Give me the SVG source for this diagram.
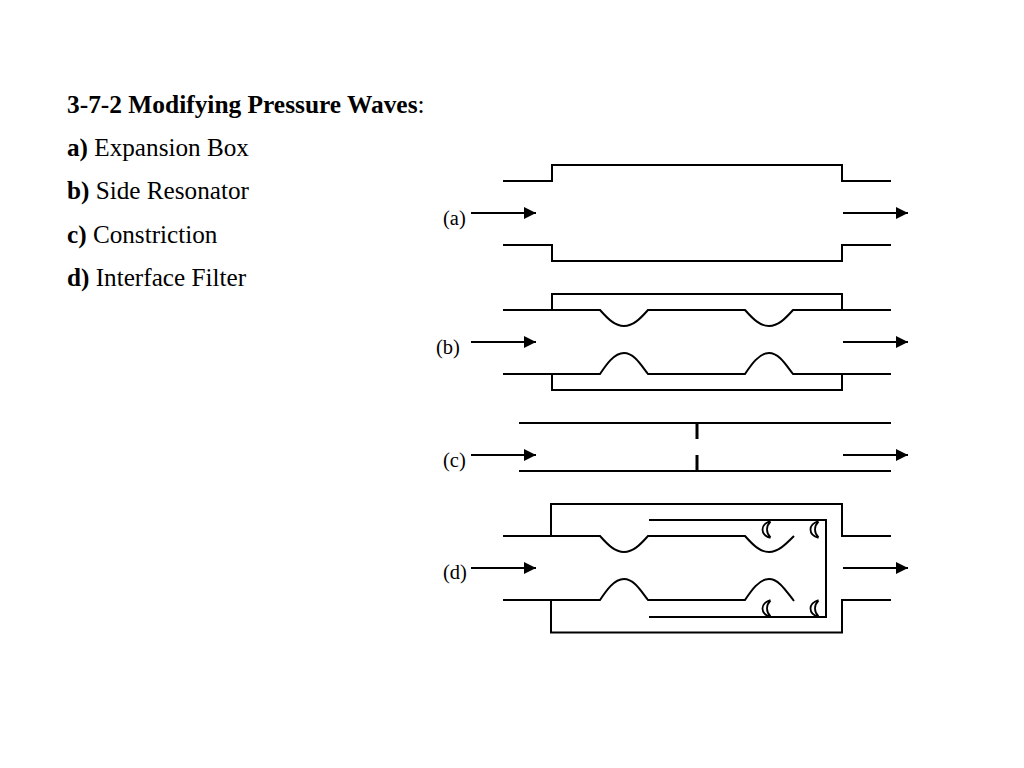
<svg xmlns="http://www.w3.org/2000/svg" width="1024" height="768" viewBox="0 0 1024 768">
<style>
text{font-family:"Liberation Serif","Times New Roman",serif;fill:#000}
.h{font-size:25.2px}
.b{font-weight:bold}
.t1{font-size:25.4px}
.l{font-size:20.5px}
.p{fill:none;stroke:#000;stroke-width:2}
.t{fill:none;stroke:#000;stroke-width:3}
.c{fill:none;stroke:#000;stroke-width:1.8}
.a{fill:none;stroke:#000;stroke-width:2;marker-end:url(#ah)}
</style>
<defs>
<marker id="ah" markerUnits="userSpaceOnUse" markerWidth="12" markerHeight="12" refX="12" refY="6" orient="auto"><path d="M0 0L12 6L0 12Z" fill="#000"/></marker>
<g id="cup"><path d="M8 0C2 2 0 5.500 0 8.500C0 12 3 15.500 8 17M8 0.500C6 2.500 4.500 6 4.500 8.500C4.500 11 6 14.500 8 16.500"/></g>
</defs>
<rect width="1024" height="768" fill="#fff"/>
<g id="heading">
<text class="h t1" x="67" y="112.500"><tspan class="b">3-7-2 Modifying Pressure Waves</tspan>:</text>
<text class="h" x="67" y="156"><tspan class="b">a)</tspan> Expansion Box</text>
<text class="h" x="67" y="199"><tspan class="b">b)</tspan> Side Resonator</text>
<text class="h" x="67" y="242.500"><tspan class="b">c)</tspan> Constriction</text>
<text class="h" x="67" y="285.500"><tspan class="b">d)</tspan> Interface Filter</text>
</g>
<g id="connectors">
<path class="a" d="M471 213H536"/><path class="a" d="M843 213H908"/>
<path class="a" d="M471 342H536"/><path class="a" d="M843 342H908"/>
<path class="a" d="M471 455H536"/><path class="a" d="M843 455H908"/>
<path class="a" d="M471 568H536"/><path class="a" d="M843 568H908"/>
</g>
<g id="node-a">
<text class="l" x="443" y="225">(a)</text>
<path class="p" d="M503 181H552V165H842V181H891"/>
<path class="p" d="M503 245H552V261H842V245H891"/>
</g>
<g id="node-b">
<text class="l" x="436" y="354">(b)</text>
<path class="p" d="M552 310V294H842V310"/>
<path class="p" d="M552 374V390H842V374"/>
<path class="p" d="M503 310H600C608 319 615 326 624 326C633 326 640 319 648 310H745C753 319 760 326 769 326C778 326 785 319 793 310H891"/>
<path class="p" d="M503 374H600C606 365 614 353 624 353C634 353 641 365 648 374H745C751 365 759 353 769 353C779 353 786 365 793 374H891"/>
</g>
<g id="node-c">
<text class="l" x="443" y="467">(c)</text>
<path class="p" d="M519 423H891"/>
<path class="p" d="M519 471H891"/>
<path class="t" d="M697 423V439"/>
<path class="t" d="M697 455V471"/>
</g>
<g id="node-d">
<text class="l" x="443" y="579">(d)</text>
<path class="p" d="M503 536H551V504H842V536H891"/>
<path class="p" d="M503 600H551V632.500H842V600H891"/>
<path class="p" d="M551 536H600C608 545 615 552 624 552C633 552 640 545 648 536H745C753 545 760 552 769 552C778 552 785 545 794 536"/>
<path class="p" d="M551 600H600C606 591 614 579 624 579C634 579 641 591 648 600H745C751 591 759 579 769 579C779 579 786 591 794 601"/>
<path class="p" d="M649 520H826V617H649"/>
<g class="c">
<use href="#cup" x="762.500" y="521"/>
<use href="#cup" x="810.500" y="521"/>
<use href="#cup" x="762.500" y="600"/>
<use href="#cup" x="810.500" y="600"/>
</g>
</g>
</svg>
